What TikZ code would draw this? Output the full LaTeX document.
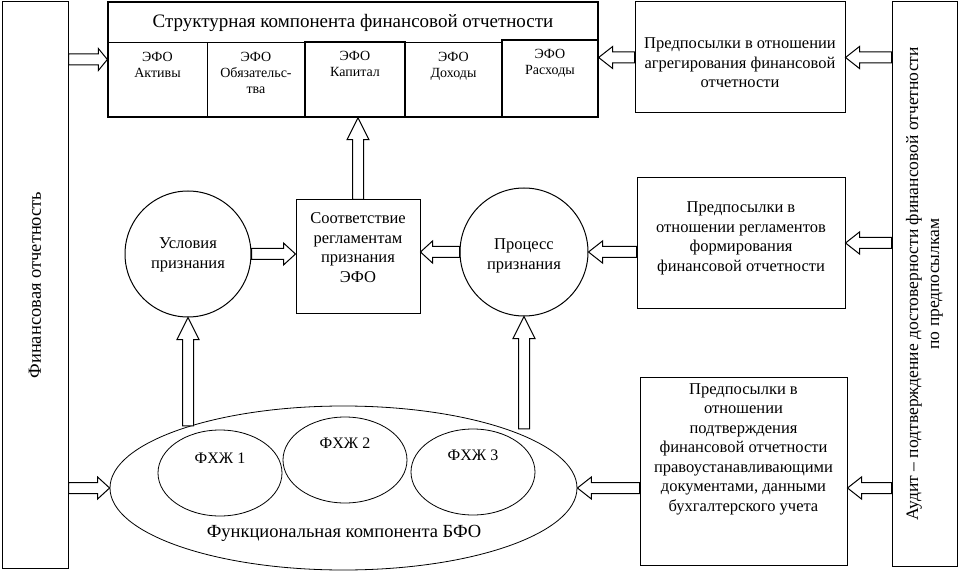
\documentclass[tikz,border=0pt]{standalone}
\usepackage{fontspec}
\setmainfont{Liberation Serif}
\usetikzlibrary{calc,shapes.geometric}
\tikzset{
  box/.style={draw, line width=1pt, rectangle, inner sep=0pt},
  thickbox/.style={box, line width=1.8pt},
  circ/.style={draw, line width=1pt, circle, inner sep=0pt},
  ell/.style={draw, line width=0.8pt, ellipse, inner sep=0pt},
  txt/.style={font=\fontsize{16.5}{19.5}\selectfont, align=center, inner sep=0pt},
  celltxt/.style={font=\fontsize{14}{16}\selectfont, align=center, inner sep=0pt, anchor=north},
  titletxt/.style={font=\fontsize{19}{22}\selectfont, inner sep=0pt},
  sidetxt/.style={font=\fontsize{17.5}{21}\selectfont, align=center, inner sep=0pt, rotate=90},
  arrowline/.style={draw, line width=1pt, fill=white, line join=miter},
}
\newcommand{\bkarrow}[3][12pt]{%
  \path (#2) coordinate (bkS) (#3) coordinate (bkT);
  \path ($(bkT)!#1!(bkS)$) coordinate (bkH);
  \draw[arrowline] ($(bkS)!5.5pt!90:(bkT)$) -- ($(bkH)!5.5pt!90:(bkT)$)
    -- ($(bkH)!11pt!90:(bkT)$) -- (bkT) -- ($(bkH)!11pt!-90:(bkT)$)
    -- ($(bkH)!5.5pt!-90:(bkT)$) -- ($(bkS)!5.5pt!-90:(bkT)$) -- cycle;
}
\begin{document}
\begin{tikzpicture}[x=1pt,y=-1pt]
\useasboundingbox (0,0) rectangle (959,572);
\fill[white] (0,0) rectangle (959,572);

% side boxes
\node[box, minimum width=66, minimum height=566] (fin) at (35,285) {};
\node[sidetxt, font=\fontsize{18.5}{22}\selectfont] (fintxt) at (fin.center) {Финансовая отчетность};
\node[box, minimum width=65, minimum height=564] (aud) at (924.5,284) {};
\node[sidetxt] (audtxt) at (aud.center) {Аудит – подтверждение достоверности финансовой отчетности\\по предпосылкам};

% structural component
\node[box, line width=1.3pt, minimum width=490, minimum height=115] (struct) at (353,59.5) {};
\node[titletxt] (stitle) at (353,22.5) {Структурная компонента финансовой отчетности};
\node[box, minimum width=99, minimum height=74] (efoA) at (157.5,80) {};
\node[box, minimum width=98, minimum height=74] (efoO) at (256,80) {};
\node[box, minimum width=97, minimum height=74] (efoD) at (453.5,80) {};
\node[thickbox, minimum width=100, minimum height=75] (efoK) at (355,79.5) {};
\node[thickbox, minimum width=96, minimum height=77] (efoR) at (550,78.5) {};
\node[celltxt] (tA) at ([yshift=-10pt]efoA.north) {ЭФО\\Активы};
\node[celltxt] (tO) at ([yshift=-10pt]efoO.north) {ЭФО\\Обязательс-\\тва};
\node[celltxt] (tK) at ([yshift=-10pt]efoK.north) {ЭФО\\Капитал};
\node[celltxt] (tD) at ([yshift=-10pt]efoD.north) {ЭФО\\Доходы};
\node[celltxt] (tR) at ([yshift=-10pt]efoR.north) {ЭФО\\Расходы};

% right premises boxes
\node[box, minimum width=210, minimum height=111] (agg) at (740,57.5) {};
\node[txt] (aggtxt) at (740,63) {Предпосылки в отношении\\агрегирования финансовой\\отчетности};
\node[box, minimum width=208, minimum height=130] (reg) at (741,243) {};
\node[txt] (regtxt) at (741,238.5) {Предпосылки в\\отношении регламентов\\формирования\\финансовой отчетности};
\node[box, minimum width=207, minimum height=188] (conf) at (743.5,471) {};
\node[txt] (conftxt) at (743.5,449) {Предпосылки в\\отношении\\подтверждения\\финансовой отчетности\\правоустанавливающими\\документами, данными\\бухгалтерского учета};

% middle row
\node[circ, minimum size=126] (usl) at (188,254) {};
\node[txt] (usltxt) at (188,255) {Условия\\признания};
\node[box, minimum width=124, minimum height=113] (sootv) at (358,256.5) {};
\node[txt] (sootvtxt) at (358,247.5) {Соответствие\\регламентам\\признания\\ЭФО};
\node[circ, minimum size=128] (proc) at (524,252) {};
\node[txt] (proctxt) at (524,256) {Процесс\\признания};

% functional component
\node[ell, minimum width=467, minimum height=164] (func) at (343.5,488) {};
\node[txt, font=\fontsize{18.5}{22}\selectfont] (functxt) at (344,533) {Функциональная компонента БФО};
\node[ell, minimum width=124, minimum height=86] (f1) at (220,473) {};
\node[txt, font=\fontsize{16}{18}\selectfont] (f1txt) at (220,458) {ФХЖ 1};
\node[ell, minimum width=124, minimum height=86] (f2) at (345,460) {};
\node[txt, font=\fontsize{16}{18}\selectfont] (f2txt) at (345,443) {ФХЖ 2};
\node[ell, minimum width=124, minimum height=86] (f3) at (473,472) {};
\node[txt, font=\fontsize{16}{18}\selectfont] (f3txt) at (473,455) {ФХЖ 3};

% block arrows
\bkarrow[9pt]{fin.east |- struct.west}{struct.west}
\bkarrow[14pt]{agg.west}{struct.east |- agg.west}
\bkarrow[14pt]{aud.west |- agg.west}{agg.east}
\bkarrow[12pt]{usl.east}{sootv.west |- usl.east}
\bkarrow[12pt]{proc.west}{sootv.east |- proc.west}
\bkarrow[22pt]{sootv.north}{struct.south -| sootv.north}
\bkarrow[14pt]{reg.west |- proc.east}{proc.east}
\bkarrow[14pt]{aud.west |- reg.west}{reg.east}
\bkarrow[22pt]{usl.south |- func.158}{usl.south}
\bkarrow[22pt]{proc.south |- func.20}{proc.south}
\bkarrow[12pt]{fin.east |- func.west}{func.west}
\bkarrow[14pt]{conf.west |- func.east}{func.east}
\bkarrow[14pt]{aud.west |- func.east}{conf.east |- func.east}
\end{tikzpicture}
\end{document}
